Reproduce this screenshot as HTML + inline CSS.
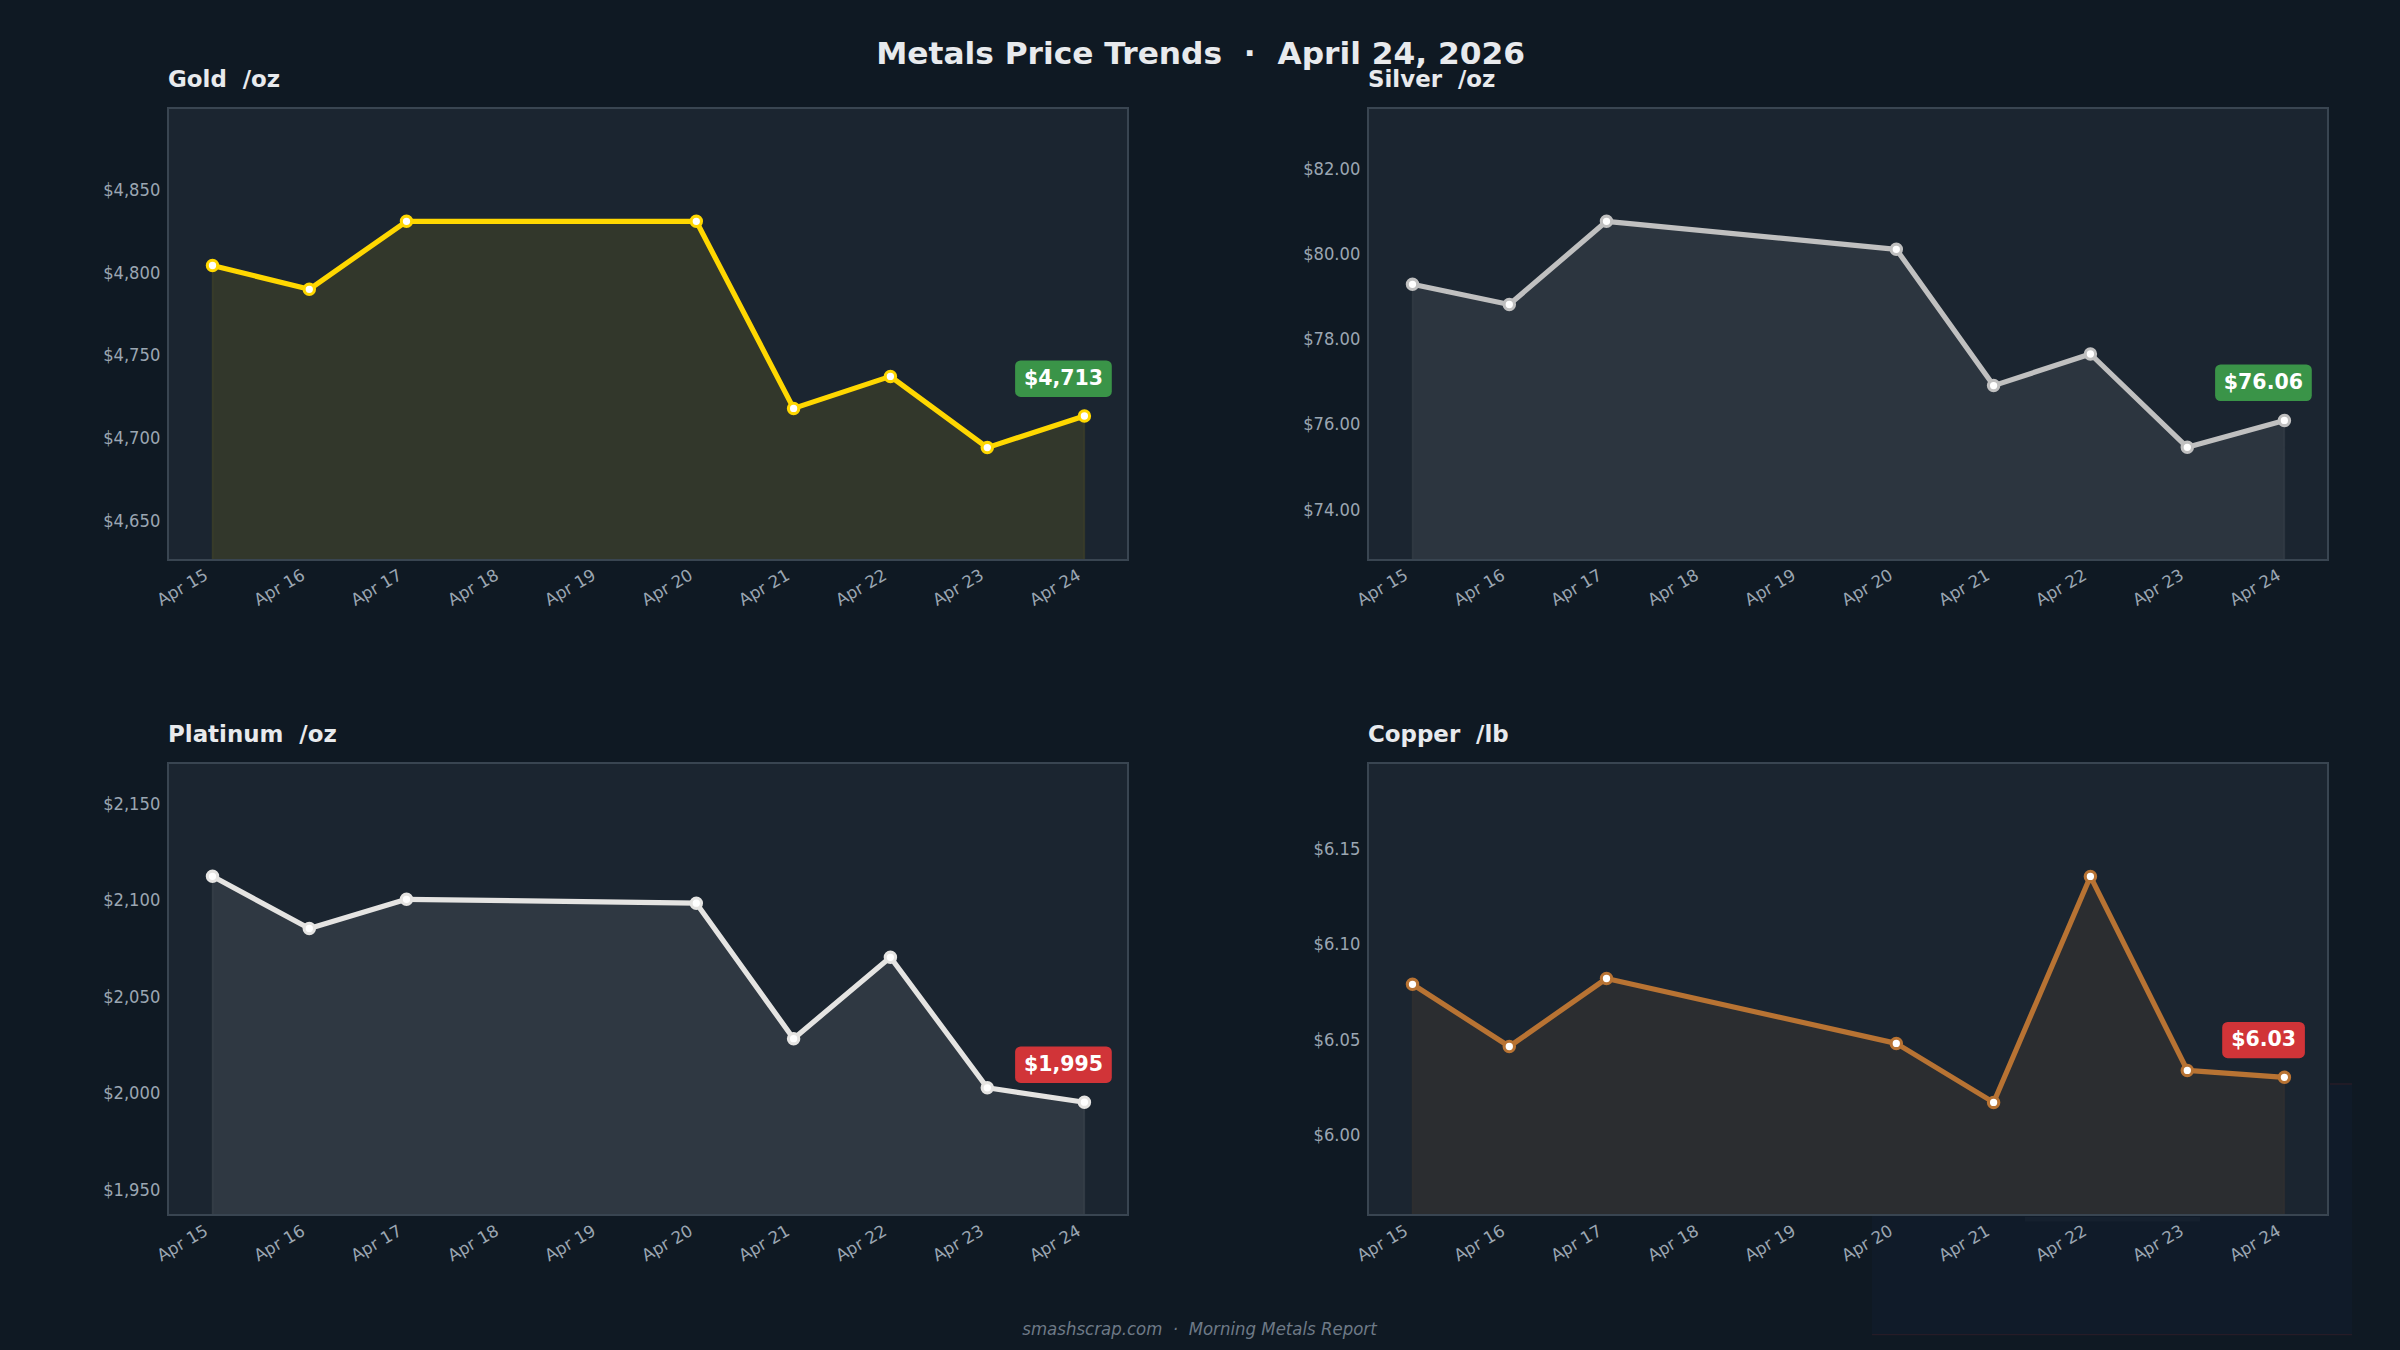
<!DOCTYPE html>
<html lang="en"><head><meta charset="utf-8"><title>Metals Price Trends</title>
<style>html,body{margin:0;padding:0;background:#0f1923;}body{width:2400px;height:1350px;overflow:hidden;}svg{display:block;}text{font-family:"DejaVu Sans", "Liberation Sans", sans-serif;white-space:pre;}.yt{font-size:16.35px;fill:#9ba6b2;}.xt{font-size:16.67px;fill:#9ba6b2;}.yt{text-anchor:end;}.xt{text-anchor:end;}.at{font-size:22.92px;font-weight:bold;fill:#e8eaed;}.bd{font-size:20.5px;font-weight:bold;fill:#fff;text-anchor:middle;}</style></head><body>
<svg width="2400" height="1350" viewBox="0 0 2400 1350">
<rect width="2400" height="1350" fill="#0f1923"/>
<rect x="1872" y="1085" width="480" height="249" fill="#101b29"/>
<g>
<rect x="168" y="108" width="960" height="452" fill="#1b2530"/>
<polygon points="212.5,265.5 309.3,289.3 406.5,221.3 696.3,221.3 793.6,408.4 890.4,376.4 987.3,447.6 1084.4,416.0 1084.4,560.0 212.5,560.0" fill="#ffd700" fill-opacity="0.1" stroke="#ffd700" stroke-opacity="0.08" stroke-width="1.6"/>
<polyline points="212.5,265.5 309.3,289.3 406.5,221.3 696.3,221.3 793.6,408.4 890.4,376.4 987.3,447.6 1084.4,416.0" fill="none" stroke="#ffd700" stroke-width="5.2" stroke-linejoin="round" stroke-linecap="butt"/>
<circle cx="212.5" cy="265.5" r="5.2" fill="#fff" stroke="#ffd700" stroke-width="3.1"/>
<circle cx="309.3" cy="289.3" r="5.2" fill="#fff" stroke="#ffd700" stroke-width="3.1"/>
<circle cx="406.5" cy="221.3" r="5.2" fill="#fff" stroke="#ffd700" stroke-width="3.1"/>
<circle cx="696.3" cy="221.3" r="5.2" fill="#fff" stroke="#ffd700" stroke-width="3.1"/>
<circle cx="793.6" cy="408.4" r="5.2" fill="#fff" stroke="#ffd700" stroke-width="3.1"/>
<circle cx="890.4" cy="376.4" r="5.2" fill="#fff" stroke="#ffd700" stroke-width="3.1"/>
<circle cx="987.3" cy="447.6" r="5.2" fill="#fff" stroke="#ffd700" stroke-width="3.1"/>
<circle cx="1084.4" cy="416.0" r="5.2" fill="#fff" stroke="#ffd700" stroke-width="3.1"/>
<rect x="168" y="108" width="960" height="452" fill="none" stroke="#394551" stroke-width="2"/>
<text class="at" x="168" y="87.2" xml:space="preserve">Gold  /oz</text>
<text class="yt" transform="translate(160.3 195.8) scale(1 1.06)">$4,850</text>
<text class="yt" transform="translate(160.3 278.5) scale(1 1.06)">$4,800</text>
<text class="yt" transform="translate(160.3 361.2) scale(1 1.06)">$4,750</text>
<text class="yt" transform="translate(160.3 444.0) scale(1 1.06)">$4,700</text>
<text class="yt" transform="translate(160.3 526.8) scale(1 1.06)">$4,650</text>
<text class="xt" transform="translate(209.1 578.5) rotate(-30)">Apr 15</text>
<text class="xt" transform="translate(306.1 578.5) rotate(-30)">Apr 16</text>
<text class="xt" transform="translate(403.1 578.5) rotate(-30)">Apr 17</text>
<text class="xt" transform="translate(500.0 578.5) rotate(-30)">Apr 18</text>
<text class="xt" transform="translate(597.0 578.5) rotate(-30)">Apr 19</text>
<text class="xt" transform="translate(694.0 578.5) rotate(-30)">Apr 20</text>
<text class="xt" transform="translate(791.0 578.5) rotate(-30)">Apr 21</text>
<text class="xt" transform="translate(887.9 578.5) rotate(-30)">Apr 22</text>
<text class="xt" transform="translate(984.9 578.5) rotate(-30)">Apr 23</text>
<text class="xt" transform="translate(1081.9 578.5) rotate(-30)">Apr 24</text>
<rect x="1015.1" y="360.4" width="96.7" height="36.5" rx="5.5" fill="#3a9448"/>
<text class="bd" x="1063.5" y="385.2">$4,713</text>
</g>
<g>
<rect x="1368" y="108" width="960" height="452" fill="#1b2530"/>
<polygon points="1412.5,284.3 1509.3,304.5 1606.5,221.3 1896.3,249.3 1993.6,385.6 2090.4,354.0 2187.3,447.3 2284.4,420.4 2284.4,560.0 1412.5,560.0" fill="#c0c0c0" fill-opacity="0.1" stroke="#c0c0c0" stroke-opacity="0.08" stroke-width="1.6"/>
<polyline points="1412.5,284.3 1509.3,304.5 1606.5,221.3 1896.3,249.3 1993.6,385.6 2090.4,354.0 2187.3,447.3 2284.4,420.4" fill="none" stroke="#c0c0c0" stroke-width="5.2" stroke-linejoin="round" stroke-linecap="butt"/>
<circle cx="1412.5" cy="284.3" r="5.2" fill="#fff" stroke="#c0c0c0" stroke-width="3.1"/>
<circle cx="1509.3" cy="304.5" r="5.2" fill="#fff" stroke="#c0c0c0" stroke-width="3.1"/>
<circle cx="1606.5" cy="221.3" r="5.2" fill="#fff" stroke="#c0c0c0" stroke-width="3.1"/>
<circle cx="1896.3" cy="249.3" r="5.2" fill="#fff" stroke="#c0c0c0" stroke-width="3.1"/>
<circle cx="1993.6" cy="385.6" r="5.2" fill="#fff" stroke="#c0c0c0" stroke-width="3.1"/>
<circle cx="2090.4" cy="354.0" r="5.2" fill="#fff" stroke="#c0c0c0" stroke-width="3.1"/>
<circle cx="2187.3" cy="447.3" r="5.2" fill="#fff" stroke="#c0c0c0" stroke-width="3.1"/>
<circle cx="2284.4" cy="420.4" r="5.2" fill="#fff" stroke="#c0c0c0" stroke-width="3.1"/>
<rect x="1368" y="108" width="960" height="452" fill="none" stroke="#394551" stroke-width="2"/>
<text class="at" x="1368" y="87.2" xml:space="preserve">Silver  /oz</text>
<text class="yt" transform="translate(1360.3 174.7) scale(1 1.06)">$82.00</text>
<text class="yt" transform="translate(1360.3 259.9) scale(1 1.06)">$80.00</text>
<text class="yt" transform="translate(1360.3 345.1) scale(1 1.06)">$78.00</text>
<text class="yt" transform="translate(1360.3 430.3) scale(1 1.06)">$76.00</text>
<text class="yt" transform="translate(1360.3 515.5) scale(1 1.06)">$74.00</text>
<text class="xt" transform="translate(1409.1 578.5) rotate(-30)">Apr 15</text>
<text class="xt" transform="translate(1506.1 578.5) rotate(-30)">Apr 16</text>
<text class="xt" transform="translate(1603.1 578.5) rotate(-30)">Apr 17</text>
<text class="xt" transform="translate(1700.0 578.5) rotate(-30)">Apr 18</text>
<text class="xt" transform="translate(1797.0 578.5) rotate(-30)">Apr 19</text>
<text class="xt" transform="translate(1894.0 578.5) rotate(-30)">Apr 20</text>
<text class="xt" transform="translate(1991.0 578.5) rotate(-30)">Apr 21</text>
<text class="xt" transform="translate(2087.9 578.5) rotate(-30)">Apr 22</text>
<text class="xt" transform="translate(2184.9 578.5) rotate(-30)">Apr 23</text>
<text class="xt" transform="translate(2281.9 578.5) rotate(-30)">Apr 24</text>
<rect x="2215.1" y="364.4" width="96.7" height="36.6" rx="5.5" fill="#3a9448"/>
<text class="bd" x="2263.4" y="388.5">$76.06</text>
</g>
<g>
<rect x="168" y="763" width="960" height="452" fill="#1b2530"/>
<polygon points="212.5,876.3 309.3,928.5 406.5,899.3 696.3,903.2 793.6,1038.7 890.4,957.3 987.3,1087.8 1084.4,1102.2 1084.4,1215.0 212.5,1215.0" fill="#e5e4e2" fill-opacity="0.1" stroke="#e5e4e2" stroke-opacity="0.08" stroke-width="1.6"/>
<polyline points="212.5,876.3 309.3,928.5 406.5,899.3 696.3,903.2 793.6,1038.7 890.4,957.3 987.3,1087.8 1084.4,1102.2" fill="none" stroke="#e5e4e2" stroke-width="5.2" stroke-linejoin="round" stroke-linecap="butt"/>
<circle cx="212.5" cy="876.3" r="5.2" fill="#fff" stroke="#e5e4e2" stroke-width="3.1"/>
<circle cx="309.3" cy="928.5" r="5.2" fill="#fff" stroke="#e5e4e2" stroke-width="3.1"/>
<circle cx="406.5" cy="899.3" r="5.2" fill="#fff" stroke="#e5e4e2" stroke-width="3.1"/>
<circle cx="696.3" cy="903.2" r="5.2" fill="#fff" stroke="#e5e4e2" stroke-width="3.1"/>
<circle cx="793.6" cy="1038.7" r="5.2" fill="#fff" stroke="#e5e4e2" stroke-width="3.1"/>
<circle cx="890.4" cy="957.3" r="5.2" fill="#fff" stroke="#e5e4e2" stroke-width="3.1"/>
<circle cx="987.3" cy="1087.8" r="5.2" fill="#fff" stroke="#e5e4e2" stroke-width="3.1"/>
<circle cx="1084.4" cy="1102.2" r="5.2" fill="#fff" stroke="#e5e4e2" stroke-width="3.1"/>
<rect x="168" y="763" width="960" height="452" fill="none" stroke="#394551" stroke-width="2"/>
<text class="at" x="168" y="742.2" xml:space="preserve">Platinum  /oz</text>
<text class="yt" transform="translate(160.3 809.5) scale(1 1.06)">$2,150</text>
<text class="yt" transform="translate(160.3 906.0) scale(1 1.06)">$2,100</text>
<text class="yt" transform="translate(160.3 1002.5) scale(1 1.06)">$2,050</text>
<text class="yt" transform="translate(160.3 1099.0) scale(1 1.06)">$2,000</text>
<text class="yt" transform="translate(160.3 1195.5) scale(1 1.06)">$1,950</text>
<text class="xt" transform="translate(209.1 1234.2) rotate(-30)">Apr 15</text>
<text class="xt" transform="translate(306.1 1234.2) rotate(-30)">Apr 16</text>
<text class="xt" transform="translate(403.1 1234.2) rotate(-30)">Apr 17</text>
<text class="xt" transform="translate(500.0 1234.2) rotate(-30)">Apr 18</text>
<text class="xt" transform="translate(597.0 1234.2) rotate(-30)">Apr 19</text>
<text class="xt" transform="translate(694.0 1234.2) rotate(-30)">Apr 20</text>
<text class="xt" transform="translate(791.0 1234.2) rotate(-30)">Apr 21</text>
<text class="xt" transform="translate(887.9 1234.2) rotate(-30)">Apr 22</text>
<text class="xt" transform="translate(984.9 1234.2) rotate(-30)">Apr 23</text>
<text class="xt" transform="translate(1081.9 1234.2) rotate(-30)">Apr 24</text>
<rect x="1015.1" y="1046.4" width="96.7" height="36.5" rx="5.5" fill="#d13438"/>
<text class="bd" x="1063.5" y="1070.5">$1,995</text>
</g>
<g>
<rect x="1368" y="763" width="960" height="452" fill="#1b2530"/>
<polygon points="1412.5,984.3 1509.3,1046.5 1606.5,978.5 1896.3,1043.4 1993.6,1102.4 2090.4,876.4 2187.3,1070.4 2284.4,1077.3 2284.4,1215.0 1412.5,1215.0" fill="#b87333" fill-opacity="0.1" stroke="#b87333" stroke-opacity="0.08" stroke-width="1.6"/>
<polyline points="1412.5,984.3 1509.3,1046.5 1606.5,978.5 1896.3,1043.4 1993.6,1102.4 2090.4,876.4 2187.3,1070.4 2284.4,1077.3" fill="none" stroke="#b87333" stroke-width="5.2" stroke-linejoin="round" stroke-linecap="butt"/>
<circle cx="1412.5" cy="984.3" r="5.2" fill="#fff" stroke="#b87333" stroke-width="3.1"/>
<circle cx="1509.3" cy="1046.5" r="5.2" fill="#fff" stroke="#b87333" stroke-width="3.1"/>
<circle cx="1606.5" cy="978.5" r="5.2" fill="#fff" stroke="#b87333" stroke-width="3.1"/>
<circle cx="1896.3" cy="1043.4" r="5.2" fill="#fff" stroke="#b87333" stroke-width="3.1"/>
<circle cx="1993.6" cy="1102.4" r="5.2" fill="#fff" stroke="#b87333" stroke-width="3.1"/>
<circle cx="2090.4" cy="876.4" r="5.2" fill="#fff" stroke="#b87333" stroke-width="3.1"/>
<circle cx="2187.3" cy="1070.4" r="5.2" fill="#fff" stroke="#b87333" stroke-width="3.1"/>
<circle cx="2284.4" cy="1077.3" r="5.2" fill="#fff" stroke="#b87333" stroke-width="3.1"/>
<rect x="1368" y="763" width="960" height="452" fill="none" stroke="#394551" stroke-width="2"/>
<text class="at" x="1368" y="742.2" xml:space="preserve">Copper  /lb</text>
<text class="yt" transform="translate(1360.3 855.0) scale(1 1.06)">$6.15</text>
<text class="yt" transform="translate(1360.3 950.3) scale(1 1.06)">$6.10</text>
<text class="yt" transform="translate(1360.3 1045.7) scale(1 1.06)">$6.05</text>
<text class="yt" transform="translate(1360.3 1141.0) scale(1 1.06)">$6.00</text>
<text class="xt" transform="translate(1409.1 1234.2) rotate(-30)">Apr 15</text>
<text class="xt" transform="translate(1506.1 1234.2) rotate(-30)">Apr 16</text>
<text class="xt" transform="translate(1603.1 1234.2) rotate(-30)">Apr 17</text>
<text class="xt" transform="translate(1700.0 1234.2) rotate(-30)">Apr 18</text>
<text class="xt" transform="translate(1797.0 1234.2) rotate(-30)">Apr 19</text>
<text class="xt" transform="translate(1894.0 1234.2) rotate(-30)">Apr 20</text>
<text class="xt" transform="translate(1991.0 1234.2) rotate(-30)">Apr 21</text>
<text class="xt" transform="translate(2087.9 1234.2) rotate(-30)">Apr 22</text>
<text class="xt" transform="translate(2184.9 1234.2) rotate(-30)">Apr 23</text>
<text class="xt" transform="translate(2281.9 1234.2) rotate(-30)">Apr 24</text>
<rect x="2222.2" y="1022.0" width="82.7" height="36.2" rx="5.5" fill="#d13438"/>
<text class="bd" x="2263.6" y="1045.9">$6.03</text>
</g>
<text transform="translate(1200.6 64.4) scale(1.0008 0.96)" text-anchor="middle" font-size="31.25" font-weight="bold" fill="#e8eaed" xml:space="preserve">Metals Price Trends  ·  April 24, 2026</text>
<text transform="translate(1199.5 1335) scale(0.995 1.06)" text-anchor="middle" font-size="16.67" font-style="italic" fill="#6e7a87" xml:space="preserve">smashscrap.com  ·  Morning Metals Report</text>
<rect x="1872" y="1334" width="480" height="1.2" fill="#3a1f2b" opacity="0.55"/>
<rect x="2025" y="1217" width="175" height="4.5" fill="#1c2836" opacity="0.45"/>
<rect x="2330" y="1083.4" width="22" height="1.2" fill="#3a1f2b" opacity="0.7"/>
</svg></body></html>
